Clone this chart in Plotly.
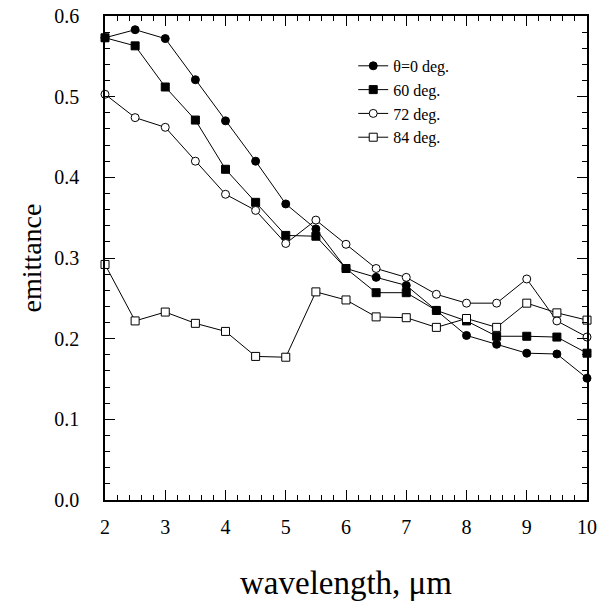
import plotly.graph_objects as go

wavelength = [2, 2.5, 3, 3.5, 4, 4.5, 5, 5.5, 6, 6.5, 7, 7.5, 8, 8.5, 9, 9.5, 10]
theta0 = [0.573, 0.583, 0.572, 0.521, 0.470, 0.420, 0.367, 0.336, 0.287, 0.276, 0.266, 0.235, 0.204, 0.193, 0.182, 0.181, 0.151]
theta60 = [0.573, 0.563, 0.512, 0.471, 0.410, 0.369, 0.328, 0.327, 0.287, 0.257, 0.257, 0.235, 0.222, 0.203, 0.203, 0.202, 0.182]
theta72 = [0.503, 0.474, 0.462, 0.420, 0.379, 0.359, 0.318, 0.347, 0.317, 0.287, 0.276, 0.255, 0.244, 0.244, 0.274, 0.222, 0.202]
theta84 = [0.292, 0.222, 0.233, 0.219, 0.209, 0.178, 0.177, 0.258, 0.248, 0.227, 0.226, 0.214, 0.225, 0.214, 0.244, 0.232, 0.223]
series_names = ["\u03b8=0 deg.", "60 deg.", "72 deg.", "84 deg."]

x_ticks = [2, 3, 4, 5, 6, 7, 8, 9, 10]
y_ticks = [0.0, 0.1, 0.2, 0.3, 0.4, 0.5, 0.6]

styles = [
    dict(symbol="circle", color="black", size=8),
    dict(symbol="square", color="black", size=8),
    dict(symbol="circle", color="white", size=8),
    dict(symbol="square", color="white", size=8),
]

fig = go.Figure()
for name, ys, st in zip(series_names, [theta0, theta60, theta72, theta84], styles):
    fig.add_trace(go.Scatter(
        x=wavelength, y=ys, name=name, mode="lines+markers",
        line=dict(color="black", width=1),
        marker=dict(symbol=st["symbol"], color=st["color"], size=st["size"],
                    line=dict(color="black", width=1)),
        cliponaxis=False,
    ))

font_family = "Liberation Serif, Times New Roman, serif"

fig.update_layout(
    width=599, height=607,
    margin=dict(l=105, r=12, t=16, b=107),
    paper_bgcolor="white", plot_bgcolor="white",
    font=dict(family=font_family, color="black", size=20),
    showlegend=True,
    legend=dict(x=0.515, y=0.932, xanchor="left", yanchor="top",
                bgcolor="rgba(0,0,0,0)", borderwidth=0,
                font=dict(family=font_family, size=16, color="black"),
                itemwidth=30, tracegroupgap=0),
)
fig.update_xaxes(
    range=[2, 10], tickvals=x_ticks, ticktext=[str(v) for v in x_ticks],
    showgrid=False, zeroline=False, automargin=False,
    showline=True, linecolor="black", linewidth=1.5, mirror="ticks",
    ticks="inside", ticklen=10, tickwidth=1, tickcolor="black",
    minor=dict(ticks="inside", ticklen=5, dtick=0.2, tickwidth=1, tickcolor="black", showgrid=False),
    tickfont=dict(size=20), ticklabelstandoff=8,
    title=dict(text="wavelength, \u03bcm", font=dict(size=33), standoff=34),
)
fig.update_yaxes(
    range=[0, 0.6], tickvals=y_ticks, ticktext=[f"{v:.1f}" for v in y_ticks],
    showgrid=False, zeroline=False, automargin=False,
    showline=True, linecolor="black", linewidth=1.5, mirror="ticks",
    ticks="inside", ticklen=10, tickwidth=1, tickcolor="black",
    minor=dict(ticks="inside", ticklen=5, dtick=0.02, tickwidth=1, tickcolor="black", showgrid=False),
    tickfont=dict(size=20), ticklabelstandoff=20,
    title=dict(text="emittance", font=dict(size=28), standoff=4),
)

fig.write_html(
    "out.html",
    config={"displayModeBar": False},
    post_script="document.body.style.margin='0px';document.body.style.overflow='hidden';",
)
